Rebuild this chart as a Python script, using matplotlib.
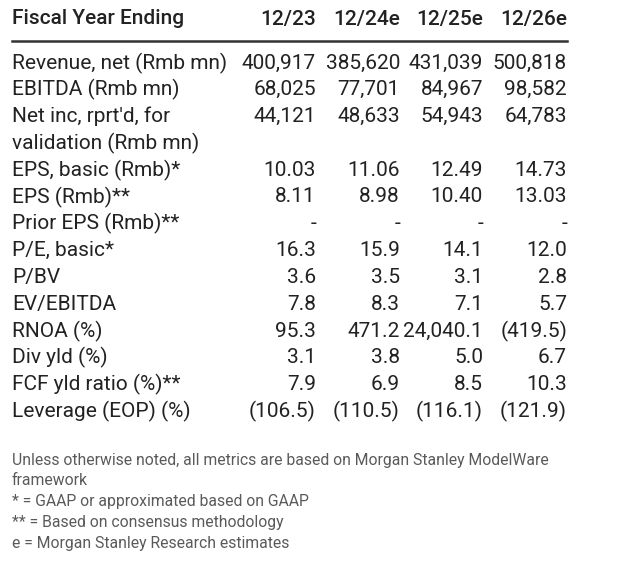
import matplotlib.pyplot as plt

plt.rcParams['font.family'] = ['Roboto', 'DejaVu Sans']

header = 'Fiscal Year Ending'
years = ['12/23', '12/24e', '12/25e', '12/26e']

labels = [
    'Revenue, net (Rmb mn)',
    'EBITDA (Rmb mn)',
    "Net inc, rprt'd, for\nvalidation (Rmb mn)",
    'EPS, basic (Rmb)*',
    'EPS (Rmb)**',
    'Prior EPS (Rmb)**',
    'P/E, basic*',
    'P/BV',
    'EV/EBITDA',
    'RNOA (%)',
    'Div yld (%)',
    'FCF yld ratio (%)**',
    'Leverage (EOP) (%)',
]
values = [
    ['400,917', '385,620', '431,039', '500,818'],
    ['68,025', '77,701', '84,967', '98,582'],
    ['44,121', '48,633', '54,943', '64,783'],
    ['10.03', '11.06', '12.49', '14.73'],
    ['8.11', '8.98', '10.40', '13.03'],
    ['-', '-', '-', '-'],
    ['16.3', '15.9', '14.1', '12.0'],
    ['3.6', '3.5', '3.1', '2.8'],
    ['7.8', '8.3', '7.1', '5.7'],
    ['95.3', '471.2', '24,040.1', '(419.5)'],
    ['3.1', '3.8', '5.0', '6.7'],
    ['7.9', '6.9', '8.5', '10.3'],
    ['(106.5)', '(110.5)', '(116.1)', '(121.9)'],
]
notes = [
    'Unless otherwise noted, all metrics are based on Morgan Stanley ModelWare',
    'framework',
    '* = GAAP or approximated based on GAAP',
    '** = Based on consensus methodology',
    'e = Morgan Stanley Research estimates',
]

fig = plt.figure(figsize=(6.4, 5.64), dpi=100)
ax = fig.add_axes([0, 0, 1, 1])
ax.set_xlim(0, 640)
ax.set_ylim(564, 0)
ax.axis('off')

x0 = 12
col_right = [316, 400, 483, 567]
dark = '#222222'
fs = 15

# header
ax.text(x0, 19, header, fontsize=fs, fontweight='medium', color=dark, va='center')
for x, y in zip(col_right, years):
    ax.text(x, 19, y, fontsize=fs, fontweight='medium', color=dark, va='center', ha='right')
ax.plot([x0, col_right[-1]], [41, 41], color='#333333', lw=1.8)

# body
row_h = 26.8
y = 63
for lab, vals in zip(labels, values):
    lines = lab.split('\n')
    for i, ln in enumerate(lines):
        ax.text(x0, y + i * row_h, ln, fontsize=fs, color=dark, va='center')
    for x, v in zip(col_right, vals):
        ax.text(x, y, v, fontsize=fs, color=dark, va='center', ha='right')
    y += row_h * len(lines)

# footnotes
ny = 460
for n in notes:
    ax.text(x0, ny, n, fontsize=11.3, color='#5a5a5a', va='center')
    ny += 20.8

fig.savefig('out.png', dpi=100)
